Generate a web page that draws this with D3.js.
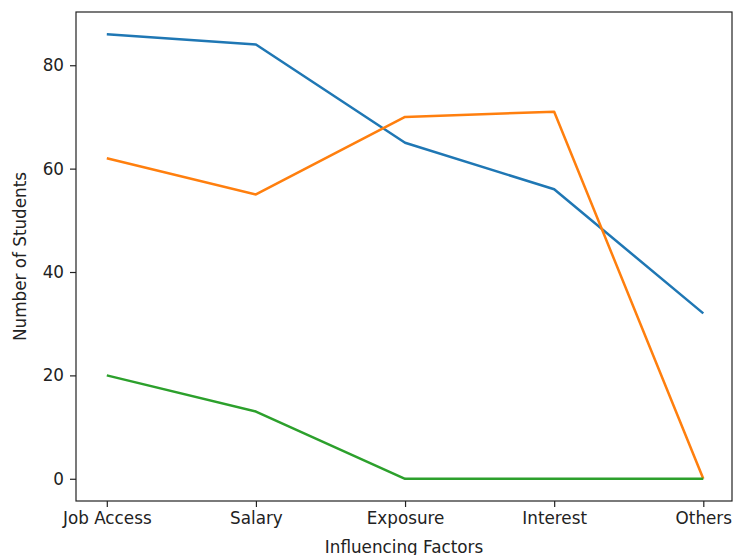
<!DOCTYPE html>
<html><head><meta charset="utf-8">
<script src="https://cdn.jsdelivr.net/npm/d3@7"></script>
<style>body{margin:0;background:#fff}svg{display:block}text{font-family:"DejaVu Sans",sans-serif;fill:#222}</style>
</head><body>
<svg id="c" width="733" height="555"></svg>
<script>
const categories = ["Job Access","Salary","Exposure","Interest","Others"];
const seriesA = [86,84,65,56,32];
const seriesB = [62,55,70,71,0];
const seriesC = [20,13,0,0,0];
const yTicks = [0,20,40,60,80];
const colors = ["#1f77b4","#ff7f0e","#2ca02c"];

const svg = d3.select("#c");
const L=76, R=732, T=12, B=501;
const x = d3.scalePoint().domain(categories).range([106.8,703.3]);
const y = d3.scaleLinear().domain([-4.3,90.3]).range([B,T]);

const fs = "16.8px";
const yAxis = svg.append("g").attr("transform",`translate(${L},0)`)
  .call(d3.axisLeft(y).tickValues(yTicks).tickSize(6).tickPadding(6));
const xAxis = svg.append("g").attr("transform",`translate(0,${B})`)
  .call(d3.axisBottom(x).tickSize(6).tickPadding(5));
[xAxis,yAxis].forEach(g=>{
  g.attr("font-size",null).attr("font-family",null);
  g.select(".domain").remove();
  g.selectAll("text").style("font-size",fs).style("font-family","DejaVu Sans").attr("fill","#222");
  g.selectAll("line").attr("stroke","#222").attr("stroke-width",1.2);
});

[seriesA,seriesB,seriesC].forEach((s,i)=>{
  svg.append("path").datum(s)
    .attr("fill","none").attr("stroke",colors[i]).attr("stroke-width",2.5)
    .attr("stroke-linejoin","round").attr("stroke-linecap","butt")
    .attr("d",d3.line().x((d,j)=>x(categories[j])).y(d=>y(d)));
});

svg.append("rect").attr("x",L).attr("y",T).attr("width",R-L).attr("height",B-T)
  .attr("fill","none").attr("stroke","#222").attr("stroke-width",1.2);

svg.append("text").attr("x",404).attr("y",553).attr("text-anchor","middle")
  .style("font-size",fs).text("Influencing Factors");
svg.append("text").attr("transform",`translate(26,${(T+B)/2}) rotate(-90)`)
  .attr("text-anchor","middle").style("font-size",fs).text("Number of Students");
</script>
</body></html>
